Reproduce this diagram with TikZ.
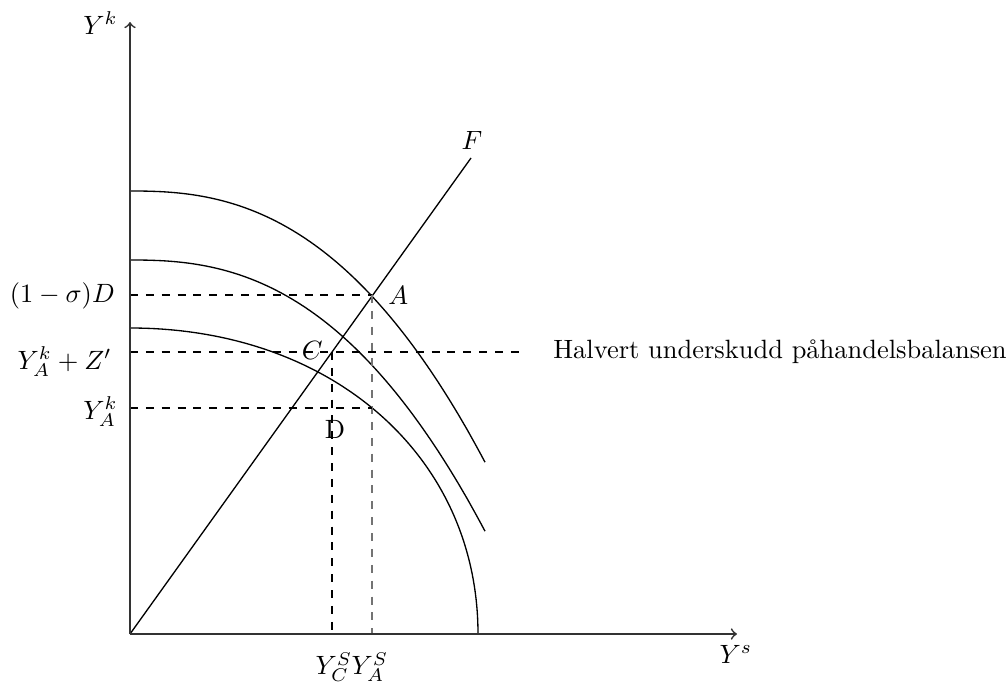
\documentclass[tikz,border=0pt]{standalone}
\usepackage{fontspec}
\begin{document}
\begin{tikzpicture}[x=0.378pt,y=-0.378pt,
  axis/.style={->, line width=0.65pt, draw=black!80},
  curve/.style={line width=0.5pt, draw=black},
  guide/.style={dashed, line width=0.45pt, draw=black},
  guidegray/.style={dashed, line width=0.7pt, draw=black!55},
  lbl/.style={font=\normalsize}]
\useasboundingbox (0,0) rectangle (1007,684);
% key points
\coordinate (O) at (130,634);
\coordinate (Ytop) at (130,22);
\coordinate (Xend) at (737,634);
\coordinate (Fend) at (471,158);
\coordinate (A) at (372,295);
\coordinate (C) at (332,352);
\coordinate (Dp) at (332,408);
\coordinate (AD) at (372,408);
\coordinate (Ax) at (372,634);
\coordinate (Cx) at (332,634);
\coordinate (yA) at (130,295);
\coordinate (yC) at (130,352);
\coordinate (yD) at (130,408);
\coordinate (Hend) at (522,352);
% curves
\draw[curve] (130,191) -- plot[domain=0.01:355,samples=80] ({130+\x},{191+44*(\x/170)^2.47});
\draw[curve] (130,260) -- plot[domain=0.01:355,samples=80] ({130+\x},{260+44*(\x/170)^2.47});
\draw[curve] (130,328) .. controls (332,328) and (478,456.5) .. (478,634);
% F line
\draw[curve] (O) -- (Fend);
% guides
\draw[guide] (yA) -- (A);
\draw[guidegray] (A) -- (Ax);
\draw[guide] (yC) -- (Hend);
\draw[guide] (C) -- (Cx);
\draw[guide] (yD) -- (AD);
% axes
\draw[axis] (O) -- (Ytop);
\draw[axis] (O) -- (Xend);
% labels
\node[lbl, anchor=east] (lYk) at (127,23) {$Y^k$};
\node[lbl, anchor=north] (lYs) at (736,636) {$Y^s$};
\node[lbl, anchor=south] (lF) at (472,159) {$F$};
\node[lbl, anchor=west] (lA) at (379,295) {$A$};
\node[lbl, anchor=east] (lC) at (332,350) {$C$};
\node[lbl, anchor=north] (lD) at (335,411) {D};
\node[lbl, anchor=east] (l1) at (124,296) {$(1-\sigma)D$};
\node[lbl, anchor=east] (l2) at (121,362) {$Y_A^k+Z'$};
\node[lbl, anchor=east] (l3) at (127,412) {$Y_A^k$};
\node[lbl, anchor=north] (lYC) at (334,643) {$Y_C^S$};
\node[lbl, anchor=north] (lYA) at (370,643) {$Y_A^S$};
\node[lbl, anchor=west] (lH) at (544,352) {Halvert underskudd påhandelsbalansen};
\end{tikzpicture}
\end{document}
